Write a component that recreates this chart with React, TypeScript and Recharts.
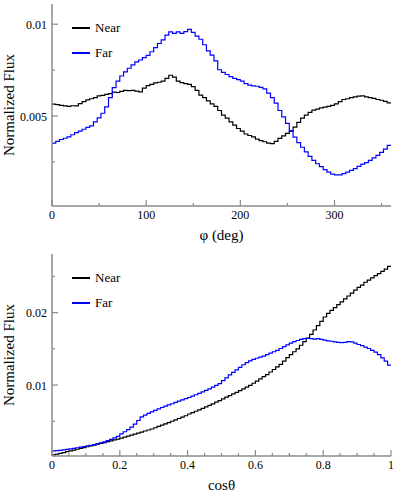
import React from "react";
import { LineChart, Line, XAxis, YAxis } from "recharts";

const SERIES_NAMES = ["Near", "Far"];
const SERIES_COLORS = ["#000000", "#0000ff"];

// phi histogram, 4 deg bins from 0 to 360
const PHI_BIN_WIDTH = 4;
const PHI_NEAR = [
  0.00565, 0.00562, 0.00558, 0.00555, 0.00552, 0.00556, 0.00555, 0.00568, 0.00578, 0.00588,
  0.00594, 0.006, 0.0061, 0.00612, 0.00618, 0.00622, 0.0063, 0.00628, 0.00634, 0.0064,
  0.00638, 0.0064, 0.00636, 0.00632, 0.00652, 0.00665, 0.00672, 0.0068, 0.00684, 0.0069,
  0.00705, 0.00722, 0.00712, 0.0069, 0.00682, 0.00676, 0.00672, 0.0066, 0.0064, 0.00614,
  0.006, 0.00582, 0.00566, 0.00552, 0.0053, 0.00505, 0.00488, 0.00468, 0.0045, 0.00432,
  0.00418, 0.00402, 0.00394, 0.00386, 0.00374, 0.00366, 0.0036, 0.00352, 0.0035, 0.00362,
  0.00378, 0.00392, 0.00405, 0.00418, 0.0044, 0.00465, 0.00488, 0.00505, 0.0052, 0.00532,
  0.00538, 0.00544, 0.00548, 0.00552, 0.00558, 0.00566, 0.00578, 0.0059, 0.00594, 0.006,
  0.00604, 0.00608, 0.0061, 0.00604, 0.006, 0.00596, 0.0059, 0.00586, 0.0058, 0.00572,
];
const PHI_FAR = [
  0.00352, 0.00362, 0.00372, 0.00379, 0.00386, 0.00398, 0.0041, 0.00418, 0.00428, 0.00438,
  0.00446, 0.00468, 0.0049, 0.00515, 0.0055, 0.006, 0.00655, 0.0069, 0.00718, 0.0074,
  0.0076, 0.00778, 0.00795, 0.00805, 0.00818, 0.0083, 0.0085, 0.00872, 0.00895, 0.00915,
  0.0094, 0.00958, 0.0095, 0.00958, 0.0095, 0.0096, 0.00972, 0.00955, 0.00935, 0.00918,
  0.00888, 0.00855, 0.00832, 0.008, 0.00752, 0.00738, 0.00726, 0.00714, 0.00705, 0.00698,
  0.0069, 0.00676, 0.00668, 0.00664, 0.00662, 0.00656, 0.00648, 0.00625, 0.006, 0.0057,
  0.0053, 0.00495, 0.0046, 0.0042, 0.00385, 0.00355, 0.0033, 0.00305, 0.0028, 0.00258,
  0.0024, 0.00224, 0.00208, 0.00194, 0.00184, 0.0018, 0.00179, 0.00186, 0.00194, 0.00204,
  0.00214, 0.00226, 0.00238, 0.00246, 0.00258, 0.00272, 0.00286, 0.00302, 0.0032, 0.0034,
];
const PHI_X_MAJOR = [0, 100, 200, 300];
const PHI_X_MINOR = [50, 150, 250, 350];
const PHI_Y_MAJOR = [0.005, 0.01];
const PHI_Y_MINOR = [0.0025, 0.0075];

// cos(theta) histogram, 0.01 bins from 0 to 1
const COS_BIN_WIDTH = 0.01;
const COS_NEAR = [
  0.00035, 0.00046, 0.00057, 0.00068, 0.0008, 0.00091, 0.00102, 0.00113, 0.00125, 0.00137,
  0.00148, 0.0016, 0.00171, 0.00183, 0.00195, 0.00206, 0.00218, 0.0023, 0.00242, 0.00254,
  0.00267, 0.00281, 0.00295, 0.00309, 0.00323, 0.00337, 0.00351, 0.00365, 0.00379, 0.00393,
  0.0041, 0.00428, 0.00446, 0.00464, 0.00482, 0.005, 0.00519, 0.00538, 0.00557, 0.00576,
  0.006, 0.00619, 0.00638, 0.00658, 0.00678, 0.00698, 0.00719, 0.00741, 0.00763, 0.00786,
  0.0081, 0.00832, 0.00855, 0.00878, 0.009, 0.00923, 0.00946, 0.0097, 0.00995, 0.01025,
  0.01055, 0.01085, 0.01115, 0.01145, 0.0118, 0.01215, 0.0125, 0.01285, 0.0133, 0.0138,
  0.0142, 0.0146, 0.015, 0.0155, 0.016, 0.0165, 0.017, 0.0176, 0.0182, 0.0188,
  0.0194, 0.0199, 0.0203, 0.0207, 0.0211, 0.0215, 0.0219, 0.0223, 0.0227, 0.0231,
  0.0235, 0.0238, 0.0242, 0.0245, 0.0248, 0.0251, 0.0254, 0.0257, 0.026, 0.0264,
];
const COS_FAR = [
  0.0009, 0.00093, 0.00098, 0.00104, 0.00112, 0.00118, 0.00126, 0.00134, 0.00142, 0.0015,
  0.0016, 0.00168, 0.00178, 0.00188, 0.002, 0.00215, 0.00232, 0.0025, 0.0027, 0.00292,
  0.00325, 0.00355, 0.00385, 0.0042, 0.0046, 0.0051, 0.0056, 0.00585, 0.0061, 0.0063,
  0.0065, 0.0067, 0.0069, 0.0071, 0.00725, 0.00742, 0.0076, 0.00778, 0.00796, 0.00812,
  0.00828, 0.00846, 0.00866, 0.00886, 0.00906, 0.00926, 0.00948, 0.0097, 0.00995, 0.0102,
  0.0106, 0.011, 0.0114, 0.01175, 0.0121, 0.01245, 0.0128, 0.0131, 0.01335, 0.01355,
  0.0137, 0.01385, 0.014, 0.0142, 0.0144, 0.0146, 0.0148, 0.01505, 0.0153, 0.01555,
  0.0158, 0.016, 0.01615, 0.0163, 0.0164, 0.01645, 0.0164, 0.01635, 0.0164, 0.0163,
  0.0162, 0.0161, 0.01605, 0.01595, 0.0159, 0.01585, 0.0159, 0.016, 0.01595, 0.0158,
  0.0156, 0.01545, 0.01525, 0.01505, 0.0148, 0.01455, 0.0142, 0.01375, 0.0133, 0.01275,
];
const COS_X_MAJOR = [0, 0.2, 0.4, 0.6, 0.8, 1];
const COS_X_MINOR = [0.05, 0.1, 0.15, 0.25, 0.3, 0.35, 0.45, 0.5, 0.55, 0.65, 0.7, 0.75, 0.85, 0.9, 0.95];
const COS_Y_MAJOR = [0.01, 0.02];
const COS_Y_MINOR = [0.005, 0.015, 0.025];

const FRAME = "#8a8a8a";
const FONT = "Liberation Serif, DejaVu Serif, serif";

// one row per bin low edge, plus a closing row so stepAfter reaches the upper edge
const buildRows = (near: number[], far: number[], binWidth: number) => {
  const rows = near.map((v, i) => ({ x: i * binWidth, near: v, far: far[i] }));
  rows.push({
    x: near.length * binWidth,
    near: near[near.length - 1],
    far: far[far.length - 1],
  });
  return rows;
};

const XTick = (props: any) => {
  const { x, y, payload, majors } = props;
  const major = majors.includes(payload.value);
  return (
    <g>
      <line x1={x} x2={x} y1={y} y2={y - (major ? 6 : 3)} stroke={FRAME} strokeWidth={1.2} />
      {major && (
        <text x={x} y={y + 13} textAnchor="middle" fontSize={12} style={{ fontFamily: FONT }} fill="#000">
          {payload.value}
        </text>
      )}
    </g>
  );
};

const YTick = (props: any) => {
  const { x, y, payload, majors } = props;
  const major = majors.includes(payload.value);
  return (
    <g>
      <line x1={x} x2={x + (major ? 6 : 3)} y1={y} y2={y} stroke={FRAME} strokeWidth={1.2} />
      {major && (
        <text x={x - 5} y={y + 4.5} textAnchor="end" fontSize={12} style={{ fontFamily: FONT }} fill="#000">
          {payload.value}
        </text>
      )}
    </g>
  );
};

interface PanelProps {
  near: number[];
  far: number[];
  binWidth: number;
  xDomain: [number, number];
  yDomain: [number, number];
  xMajor: number[];
  xMinor: number[];
  yMajor: number[];
  yMinor: number[];
  xTitle: string;
  height: number;
  xAxisHeight: number;
}

const HistPanel: React.FC<PanelProps> = ({
  near,
  far,
  binWidth,
  xDomain,
  yDomain,
  xMajor,
  xMinor,
  yMajor,
  yMinor,
  xTitle,
  height,
  xAxisHeight,
}) => {
  const rows = buildRows(near, far, binWidth);
  const xTicks = [...xMajor, ...xMinor].sort((a, b) => a - b);
  const yTicks = [...yMajor, ...yMinor].sort((a, b) => a - b);
  const frameLine = { stroke: FRAME, strokeWidth: 1.5 };

  return (
    <div style={{ position: "relative", width: 399, height }}>
      <LineChart width={399} height={height} data={rows} margin={{ top: 4, right: 8, bottom: 0, left: 0 }}>
        <XAxis
          dataKey="x"
          type="number"
          domain={xDomain}
          ticks={xTicks}
          interval={0}
          tickSize={0}
          tickMargin={0}
          tickLine={false}
          axisLine={frameLine}
          tick={<XTick majors={xMajor} />}
          height={xAxisHeight}
          label={{
            value: xTitle,
            position: "insideBottom",
            offset: xAxisHeight - 34,
            fill: "#000",
            fontSize: 15,
            style: { fontFamily: FONT },
          }}
        />
        <XAxis
          xAxisId="top"
          orientation="top"
          dataKey="x"
          type="number"
          domain={xDomain}
          tick={false}
          tickLine={false}
          height={0}
          axisLine={frameLine}
        />
        <YAxis
          type="number"
          domain={yDomain}
          allowDataOverflow
          ticks={yTicks}
          interval={0}
          tickSize={0}
          tickMargin={0}
          tickLine={false}
          axisLine={frameLine}
          tick={<YTick majors={yMajor} />}
          width={52}
          label={{
            value: "Normalized Flux",
            angle: -90,
            position: "insideLeft",
            offset: 9,
            fill: "#000",
            fontSize: 15,
            style: { textAnchor: "middle", fontFamily: FONT },
          }}
        />
        <YAxis
          yAxisId="right"
          orientation="right"
          type="number"
          domain={yDomain}
          tick={false}
          tickLine={false}
          width={0}
          axisLine={frameLine}
        />
        <Line
          dataKey="near"
          name={SERIES_NAMES[0]}
          type="stepAfter"
          stroke={SERIES_COLORS[0]}
          strokeWidth={1.2}
          dot={false}
          isAnimationActive={false}
        />
        <Line
          dataKey="far"
          name={SERIES_NAMES[1]}
          type="stepAfter"
          stroke={SERIES_COLORS[1]}
          strokeWidth={1.2}
          dot={false}
          isAnimationActive={false}
        />
      </LineChart>
      {SERIES_NAMES.map((name, i) => (
        <div
          key={name}
          style={{
            position: "absolute",
            left: 72,
            top: 18 + i * 25,
            height: 20,
            display: "flex",
            alignItems: "center",
            fontFamily: FONT,
            fontSize: 13,
            color: "#000",
          }}
        >
          <div style={{ width: 18, height: 1.5, background: SERIES_COLORS[i], marginRight: 5 }} />
          <span>{name}</span>
        </div>
      ))}
    </div>
  );
};

export default function App() {
  return (
    <div
      style={{
        position: "absolute",
        left: 0,
        top: 0,
        width: 399,
        height: 499,
        background: "#fff",
        fontFamily: FONT,
      }}
    >
      <HistPanel
        near={PHI_NEAR}
        far={PHI_FAR}
        binWidth={PHI_BIN_WIDTH}
        xDomain={[0, 360]}
        yDomain={[0.0001, 0.0111]}
        xMajor={PHI_X_MAJOR}
        xMinor={PHI_X_MINOR}
        yMajor={PHI_Y_MAJOR}
        yMinor={PHI_Y_MINOR}
        xTitle="φ (deg)"
        height={250}
        xAxisHeight={44}
      />
      <HistPanel
        near={COS_NEAR}
        far={COS_FAR}
        binWidth={COS_BIN_WIDTH}
        xDomain={[0, 1]}
        yDomain={[0.0002, 0.0281]}
        xMajor={COS_X_MAJOR}
        xMinor={COS_X_MINOR}
        yMajor={COS_Y_MAJOR}
        yMinor={COS_Y_MINOR}
        xTitle="cosθ"
        height={249}
        xAxisHeight={43}
      />
    </div>
  );
}
